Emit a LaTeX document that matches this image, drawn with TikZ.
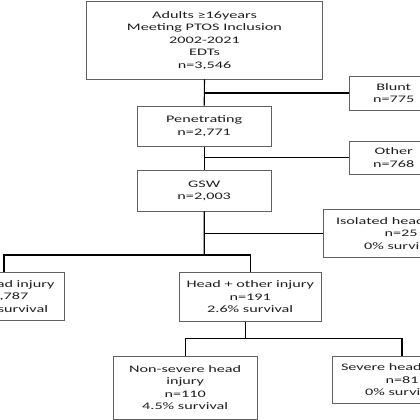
\documentclass[tikz,border=0pt]{standalone}
\usepackage{fontspec}
\setmainfont{Carlito}
\newcommand\hstr[1]{\scalebox{1.62}[1]{#1}}
\begin{document}
\begin{tikzpicture}[x=1pt,y=-1pt,
  box/.style={draw=black!62,line width=0.8pt,fill=white,align=center,inner sep=0pt,
    text=black!88,font=\fontsize{10}{12.5}\selectfont},
  link/.style={draw=black,line width=1.1pt}]
\useasboundingbox (0,0) rectangle (420,420);
\clip (0,0) rectangle (420,420);
\node[box,minimum width=236.3pt,minimum height=77.7pt] (top) at (204.5,40.2)
  {\hstr{Adults ≥16years}\\\hstr{Meeting PTOS Inclusion}\\\hstr{2002-2021}\\\hstr{EDTs}\\\hstr{n=3,546}};
\node[box,minimum width=89.4pt,minimum height=34pt] (blunt) at (393.7,93)
  {\hstr{Blunt}\\\hstr{n=775}};
\node[box,minimum width=134.6pt,minimum height=40.7pt] (pen) at (204.2,126.3)
  {\hstr{Penetrating}\\\hstr{n=2,771}};
\node[box,minimum width=89.4pt,minimum height=32.3pt] (other) at (393.7,157.8)
  {\hstr{Other}\\\hstr{n=768}};
\node[box,minimum width=134.6pt,minimum height=40.7pt] (gsw) at (204.2,190.7)
  {\hstr{GSW}\\\hstr{n=2,003}};
\node[box,minimum width=155.4pt,minimum height=48pt] (iso) at (401,233.3)
  {\hstr{Isolated head\phantom{ injury}}\\\hstr{n=25}\\\hstr{0\% survi\phantom{val}}};
\node[box,minimum width=115.4pt,minimum height=47.7pt] (nohead) at (7,296.2)
  {\hspace*{-2pt}\hstr{\phantom{No he}ad injury}\\\hspace*{-11pt}\hstr{\phantom{n=1},787}\\\hspace*{-4pt}\hstr{\phantom{0.0\% }survival}};
\node[box,minimum width=141.7pt,minimum height=48.6pt] (ho) at (250.2,297)
  {\hstr{Head + other injury}\\\hstr{n=191}\\\hstr{2.6\% survival}};
\node[box,minimum width=143.7pt,minimum height=62.3pt] (ns) at (185.2,387.8)
  {\hstr{Non-severe head}\\\hstr{injury}\\\hstr{n=110}\\\hstr{4.5\% survival}};
\node[box,minimum width=138.6pt,minimum height=46.6pt] (sev) at (402,380)
  {\hstr{Severe head\phantom{ injury}}\\\hstr{n=81}\\\hstr{0\% survi\phantom{val}}};
% connectors
\draw[link] (top.south) -- (pen.north);
\draw[link] (top.south |- blunt.west) -- (blunt.west);
\draw[link] (pen.south) -- (gsw.south |- gsw.north);
\draw[link] (pen.south |- other.west) -- (other.west);
\coordinate (s1) at (204.3,255);
\draw[link] (gsw.south) -- (s1);
\draw[link] (gsw.south |- iso.west) -- (iso.west);
\draw[link] (nohead.north -| 4,0) |- (ho.north |- s1) -- (ho.north);
\coordinate (s2) at (245.7,338.3);
\draw[link] (ho.south -| s2) -- (s2);
\draw[link] (ns.north) |- (s2) -| (sev.north);
\end{tikzpicture}
\end{document}
